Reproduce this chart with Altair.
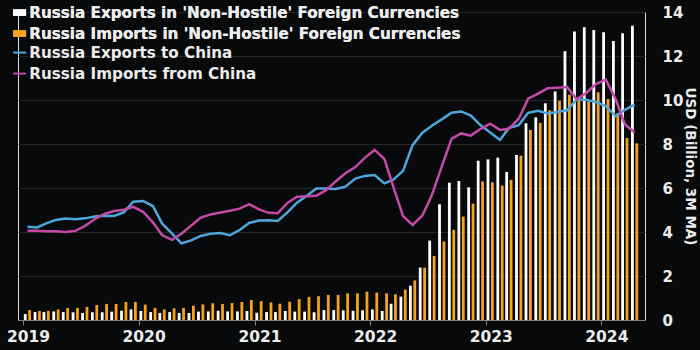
import altair as alt
import pandas as pd

# ---- data (monthly, Jan 2019 - Apr 2024), USD billion ----
series_bars = ["Russia Exports in 'Non-Hostile' Foreign Currencies",
               "Russia Imports in 'Non-Hostile' Foreign Currencies"]
series_lines = ["Russia Exports to China", "Russia Imports from China"]

exports_nonhostile = [
    0.27, 0.36, 0.36, 0.39, 0.36, 0.35, 0.32, 0.35, 0.35, 0.38, 0.42, 0.48,
    0.41, 0.36, 0.32, 0.36, 0.32, 0.32, 0.38, 0.39, 0.42, 0.39, 0.39, 0.41,
    0.33, 0.36, 0.36, 0.41, 0.38, 0.38, 0.35, 0.45, 0.45, 0.44, 0.42, 0.44,
    0.48, 0.41, 0.74, 1.06, 1.56, 2.38, 3.61, 5.26, 6.24, 6.32, 6.03, 7.24,
    7.30, 7.38, 6.73, 7.50, 8.94, 9.21, 9.85, 10.39, 12.22, 13.11, 13.31, 13.18,
    13.08, 12.68, 13.03, 13.38,
]
imports_nonhostile = [
    0.45, 0.41, 0.42, 0.48, 0.55, 0.55, 0.59, 0.68, 0.73, 0.73, 0.82, 0.82,
    0.70, 0.55, 0.48, 0.53, 0.55, 0.65, 0.71, 0.76, 0.73, 0.77, 0.82, 0.91,
    0.86, 0.80, 0.74, 0.83, 0.95, 1.05, 1.08, 1.14, 1.14, 1.21, 1.21, 1.29,
    1.24, 1.21, 1.17, 1.38, 1.80, 2.38, 2.91, 3.57, 4.10, 4.70, 5.29, 6.30,
    6.26, 6.11, 6.37, 7.47, 8.64, 8.96, 9.53, 9.97, 10.24, 10.05, 9.94, 10.35,
    10.04, 9.40, 8.27, 8.03,
]
exports_to_china = [
    4.24, 4.21, 4.39, 4.55, 4.61, 4.58, 4.62, 4.70, 4.74, 4.73, 4.89, 5.38,
    5.41, 5.18, 4.39, 3.94, 3.48, 3.62, 3.82, 3.92, 3.95, 3.85, 4.09, 4.41,
    4.52, 4.53, 4.50, 4.89, 5.33, 5.65, 5.98, 5.98,
    5.96, 6.06, 6.43, 6.55, 6.59, 6.21, 6.38, 6.78, 7.95, 8.51, 8.83, 9.12,
    9.42, 9.48, 9.29, 8.86, 8.52, 8.18, 8.73, 8.86, 9.42, 9.51, 9.39, 9.45,
    9.53, 10.03, 10.00, 9.91, 9.72, 9.27, 9.55, 9.79,
]
imports_from_china = [
    4.06, 4.06, 4.03, 4.03, 4.00, 4.05, 4.27, 4.58, 4.82, 4.95, 5.01, 5.14,
    4.92, 4.44, 3.86, 3.64, 3.92, 4.29, 4.65, 4.80, 4.89, 4.97, 5.06, 5.27,
    5.03, 4.87, 4.85, 5.32, 5.60, 5.63, 5.65, 5.90,
    6.31, 6.67, 6.95, 7.37, 7.73, 7.32, 6.06, 4.72, 4.32, 4.75, 5.68, 6.97,
    8.23, 8.48, 8.38, 8.68, 8.92, 8.64, 8.69, 9.15, 10.06, 10.29, 10.53, 10.56,
    10.59, 10.03, 10.33, 10.72, 10.93, 10.04, 8.90, 8.52,
]
year_ticks = [2019, 2020, 2021, 2022, 2023, 2024]
y_ticks = [0, 2, 4, 6, 8, 10, 12, 14]

n = len(exports_nonhostile)
dates = [f"{2019 + i // 12}-{i % 12 + 1:02d}-15" for i in range(n)]

bars_df = pd.DataFrame({
    "date": dates * 2,
    "series": [series_bars[0]] * n + [series_bars[1]] * n,
    "value": exports_nonhostile + imports_nonhostile,
})
lines_df = pd.DataFrame({
    "date": dates * 2,
    "series": [series_lines[0]] * n + [series_lines[1]] * n,
    "value": exports_to_china + imports_from_china,
})

FONT = "DejaVu Sans"
TXT = "#ececec"

xscale = alt.Scale(type="utc", domain=[alt.DateTime(year=2019, month=1, date=1, utc=True),
                                       alt.DateTime(year=2024, month=5, date=2, utc=True)])
xaxis = alt.Axis(values=[alt.DateTime(year=y, month=1, date=1, utc=True) for y in year_ticks],
                 format="%Y", formatType="utc", labelFontSize=15.5, labelFontWeight="bold",
                 labelColor=TXT, labelOffset=5, labelPadding=4, domainColor="#808080",
                 tickColor="#808080", tickSize=5, grid=False, title=None, labelFont=FONT)
yscale = alt.Scale(domain=[0, 14], nice=False)
yaxis = alt.Axis(orient="right", values=y_ticks, labelFontSize=15, labelFontWeight="bold",
                 labelColor=TXT, labelPadding=17, ticks=False, domain=False, grid=True,
                 gridColor="#242424", gridWidth=1, title="USD (Billion, 3M MA)",
                 titleFontSize=13.5, titleFontWeight="bold", titleColor=TXT, titleAngle=90,
                 titlePadding=0, labelFont=FONT, titleFont=FONT)

bar_scale = alt.Scale(domain=series_bars, range=["#ffffff", "#f5a21c"])
bar_legend = alt.Legend(orient="none", legendX=-6, legendY=-7, title=None,
                        symbolType="M-1,-0.5H1V0.5H-1Z", symbolSize=169, symbolOpacity=1,
                        labelFontSize=15.2, labelFontWeight="bold", labelColor=TXT, labelFont=FONT,
                        labelOffset=2, rowPadding=5, padding=0, labelLimit=600)
line_scale = alt.Scale(domain=series_lines, range=["#4ea6dc", "#c44aa8"])
line_legend = alt.Legend(orient="none", legendX=-6, legendY=33, title=None,
                         symbolType="stroke", symbolSize=169, symbolStrokeWidth=2,
                         labelFontSize=15.2, labelFontWeight="bold", labelColor=TXT, labelFont=FONT,
                         labelOffset=2, rowPadding=5, padding=0, labelLimit=600)

bar_x = alt.X("date:T", scale=xscale, axis=xaxis)
bar_y = alt.Y("value:Q", scale=yscale, axis=yaxis)

bar_exp = alt.Chart(bars_df).transform_filter(
    alt.datum.series == series_bars[0]
).mark_bar(width=2.8, xOffset=-2.2).encode(
    x=bar_x, y=bar_y,
    color=alt.Color("series:N", scale=bar_scale, legend=bar_legend),
)
bar_imp = alt.Chart(bars_df).transform_filter(
    alt.datum.series == series_bars[1]
).mark_bar(width=2.8, xOffset=2.2).encode(
    x=bar_x, y=bar_y,
    color=alt.Color("series:N", scale=bar_scale, legend=bar_legend),
)
lines = alt.Chart(lines_df).mark_line(strokeWidth=2.5).encode(
    x=bar_x, y=bar_y,
    color=alt.Color("series:N", scale=line_scale, legend=line_legend),
)

chart = alt.layer(bar_exp, bar_imp, lines).resolve_scale(color="independent").properties(
    width=627, height=308,
    autosize=alt.AutoSizeParams(type="none"),
    padding={"left": 18, "top": 12, "right": 55, "bottom": 30},
    background="#07090b",
).configure_view(stroke=None).configure(font=FONT)

chart.save("out.html", embed_options={"renderer": "svg", "actions": False})
